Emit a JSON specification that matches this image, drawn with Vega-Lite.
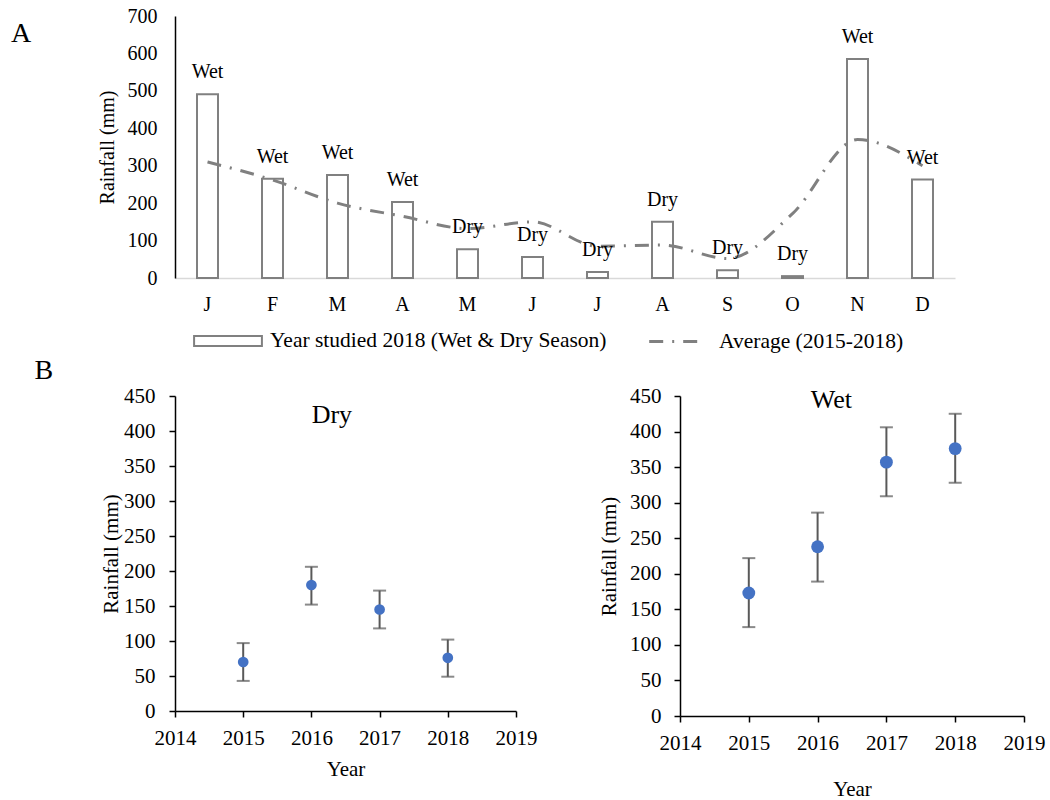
{
  "$schema": "https://vega.github.io/schema/vega-lite/v6.json",
  "padding": {"left": 11, "top": 6, "right": 5, "bottom": 0},
  "background": "white",
  "config": {
    "font": "Liberation Serif",
    "view": {"stroke": null},
    "text": {"font": "Liberation Serif"},
    "axis": {"labelColor": "black", "titleColor": "black", "titleFontWeight": "normal", "labelFont": "Liberation Serif", "titleFont": "Liberation Serif", "grid": false, "labelOverlap": false, "labelFlush": false},
    "legend": {"labelColor": "black", "labelFont": "Liberation Serif", "labelLimit": 500},
    "title": {"font": "Liberation Serif", "fontWeight": "normal", "color": "black"}
  },
  "spacing": -13,
  "resolve": {"legend": {"stroke": "independent", "strokeDash": "independent"}, "scale": {"stroke": "independent", "strokeDash": "independent"}},
  "vconcat": [
    {
      "width": 780,
      "height": 262,
      "title": {"text": "A", "anchor": "start", "frame": "bounds", "baseline": "top", "offset": -42, "dx": -86, "fontSize": 28},
      "data": {"values": [
        {"month": "Jan", "rain2018": 491, "avg": 310, "season": "Wet"},
        {"month": "Feb", "rain2018": 265, "avg": 262, "season": "Wet"},
        {"month": "Mar", "rain2018": 275, "avg": 200, "season": "Wet"},
        {"month": "Apr", "rain2018": 203, "avg": 165, "season": "Wet"},
        {"month": "May", "rain2018": 77, "avg": 132, "season": "Dry"},
        {"month": "Jun", "rain2018": 56, "avg": 150, "season": "Dry"},
        {"month": "Jul", "rain2018": 16, "avg": 85, "season": "Dry"},
        {"month": "Aug", "rain2018": 150, "avg": 88, "season": "Dry"},
        {"month": "Sep", "rain2018": 21, "avg": 52, "season": "Dry"},
        {"month": "Oct", "rain2018": 5, "avg": 172, "season": "Dry"},
        {"month": "Nov", "rain2018": 585, "avg": 370, "season": "Wet"},
        {"month": "Dec", "rain2018": 263, "avg": 300, "season": "Wet"}
      ]},
      "encoding": {
        "x": {"field": "month", "type": "ordinal", "sort": null, "scale": {"paddingInner": 0, "paddingOuter": 0},
          "axis": {"title": null, "labelAngle": 0, "labelExpr": "substring(datum.label, 0, 1)", "labelFontSize": 20, "labelPadding": 16, "ticks": false, "domainColor": "#d9d9d9", "domainWidth": 1.5}},
        "y": {"type": "quantitative", "scale": {"domain": [0, 700]},
          "axis": {"title": "Rainfall (mm)", "titleFontSize": 20, "titlePadding": 10, "tickCount": 8, "labelOverlap": false, "labelSeparation": -30, "labelFontSize": 20, "labelPadding": 18, "ticks": false, "domainColor": "black", "domainWidth": 1.5}}
      },
      "layer": [
        {
          "mark": {"type": "bar", "width": 21, "fill": "white", "strokeWidth": 2},
          "encoding": {
            "y": {"field": "rain2018"},
            "stroke": {"datum": "Year studied 2018 (Wet & Dry Season)", "type": "nominal", "scale": {"range": ["#808080"]},
              "legend": {"orient": "bottom", "title": null, "offset": -26, "padding": 18, "symbolType": "M-1,-0.15H1V0.15H-1Z", "symbolSize": 4600, "symbolFillColor": "white", "symbolStrokeWidth": 2, "labelFontSize": 21.5, "labelOffset": 7, "labelLimit": 500}}
          }
        },
        {
          "mark": {"type": "line", "interpolate": "monotone", "strokeWidth": 3, "color": "#808080"},
          "encoding": {
            "y": {"field": "avg"},
            "strokeDash": {"datum": "Average (2015-2018)", "type": "nominal", "scale": {"range": [[14, 9, 2, 9]]},
              "legend": {"orient": "bottom", "title": null, "offset": -26, "padding": 18, "symbolType": "M-1.1,0H0.5", "symbolSize": 4600, "symbolFillColor": "transparent", "symbolStrokeColor": "#808080", "symbolStrokeWidth": 3, "labelFontSize": 21.5, "labelOffset": -3, "labelLimit": 500}}
          }
        },
        {
          "mark": {"type": "text", "baseline": "middle", "dy": -22, "fontSize": 20, "color": "black", "font": "Liberation Serif"},
          "encoding": {
            "y": {"field": "rain2018"},
            "text": {"field": "season"}
          }
        }
      ]
    },
    {
      "title": {"text": "B", "anchor": "start", "frame": "bounds", "dx": -66, "fontSize": 28, "offset": 0},
      "spacing": 61,
      "hconcat": [
        {
          "width": 341,
          "height": 315,
          "layer": [
            {
              "data": {"values": [
                {"year": 2015, "rain": 70, "lo": 43, "hi": 97},
                {"year": 2016, "rain": 180, "lo": 152, "hi": 206},
                {"year": 2017, "rain": 145, "lo": 118, "hi": 172},
                {"year": 2018, "rain": 76, "lo": 49, "hi": 102}
              ]},
              "layer": [
                {
                  "mark": {"type": "errorbar", "ticks": {"size": 13, "thickness": 2, "color": "#595959"}, "rule": {"strokeWidth": 2, "color": "#595959"}},
                  "encoding": {
                    "x": {"field": "year", "type": "quantitative"},
                    "y": {"field": "lo", "type": "quantitative", "title": "Rainfall (mm)"},
                    "y2": {"field": "hi"}
                  }
                },
                {
                  "mark": {"type": "point", "filled": true, "size": 115, "color": "#4472c4", "opacity": 1},
                  "encoding": {
                    "x": {"field": "year", "type": "quantitative"},
                    "y": {"field": "rain", "type": "quantitative", "title": "Rainfall (mm)"}
                  }
                }
              ]
            },
            {
              "data": {"values": [{"label": "Dry"}]},
              "mark": {"type": "text", "fontSize": 26, "fontWeight": "normal", "font": "Liberation Serif", "baseline": "middle", "color": "black"},
              "encoding": {"x": {"datum": 2016.3, "type": "quantitative"}, "y": {"datum": 423, "type": "quantitative"}, "text": {"field": "label"}}
            }
          ],
          "encoding": {
            "x": {"type": "quantitative", "scale": {"domain": [2014, 2019]},
              "axis": {"title": "Year", "titleFontSize": 21, "titlePadding": 10, "values": [2014, 2015, 2016, 2017, 2018, 2019], "format": "d", "labelOverlap": false, "labelFontSize": 21, "labelPadding": 10, "tickSize": 6, "tickColor": "black", "domainColor": "black", "domainWidth": 1.5, "tickWidth": 1.5}},
            "y": {"type": "quantitative", "scale": {"domain": [0, 450]},
              "axis": {"title": "Rainfall (mm)", "values": [0, 50, 100, 150, 200, 250, 300, 350, 400, 450], "labelOverlap": false, "labelSeparation": -30, "titleFontSize": 21, "titlePadding": 2, "labelFontSize": 21, "labelPadding": 14, "tickSize": 6, "tickColor": "black", "domainColor": "black", "domainWidth": 1.5, "tickWidth": 1.5}}
          }
        },
        {
          "width": 344,
          "height": 320,
          "layer": [
            {
              "data": {"values": [
                {"year": 2015, "rain": 173, "lo": 125, "hi": 222},
                {"year": 2016, "rain": 238, "lo": 189, "hi": 286},
                {"year": 2017, "rain": 357, "lo": 309, "hi": 406},
                {"year": 2018, "rain": 376, "lo": 328, "hi": 425}
              ]},
              "layer": [
                {
                  "mark": {"type": "errorbar", "ticks": {"size": 13, "thickness": 2, "color": "#595959"}, "rule": {"strokeWidth": 2, "color": "#595959"}},
                  "encoding": {
                    "x": {"field": "year", "type": "quantitative"},
                    "y": {"field": "lo", "type": "quantitative", "title": "Rainfall (mm)"},
                    "y2": {"field": "hi"}
                  }
                },
                {
                  "mark": {"type": "point", "filled": true, "size": 165, "color": "#4472c4", "opacity": 1},
                  "encoding": {
                    "x": {"field": "year", "type": "quantitative"},
                    "y": {"field": "rain", "type": "quantitative", "title": "Rainfall (mm)"}
                  }
                }
              ]
            },
            {
              "data": {"values": [{"label": "Wet"}]},
              "mark": {"type": "text", "fontSize": 26, "fontWeight": "normal", "font": "Liberation Serif", "baseline": "middle", "color": "black"},
              "encoding": {"x": {"datum": 2016.2, "type": "quantitative"}, "y": {"datum": 444, "type": "quantitative"}, "text": {"field": "label"}}
            }
          ],
          "encoding": {
            "x": {"type": "quantitative", "scale": {"domain": [2014, 2019]},
              "axis": {"title": "Year", "titleFontSize": 21, "titlePadding": 25, "values": [2014, 2015, 2016, 2017, 2018, 2019], "format": "d", "labelOverlap": false, "labelFontSize": 21, "labelPadding": 10, "tickSize": 6, "tickColor": "black", "domainColor": "black", "domainWidth": 1.5, "tickWidth": 1.5}},
            "y": {"type": "quantitative", "scale": {"domain": [0, 450]},
              "axis": {"title": "Rainfall (mm)", "values": [0, 50, 100, 150, 200, 250, 300, 350, 400, 450], "labelOverlap": false, "labelSeparation": -30, "titleFontSize": 21, "titlePadding": 10, "labelFontSize": 21, "labelPadding": 13, "tickSize": 6, "tickColor": "black", "domainColor": "black", "domainWidth": 1.5, "tickWidth": 1.5}}
          }
        }
      ]
    }
  ]
}
